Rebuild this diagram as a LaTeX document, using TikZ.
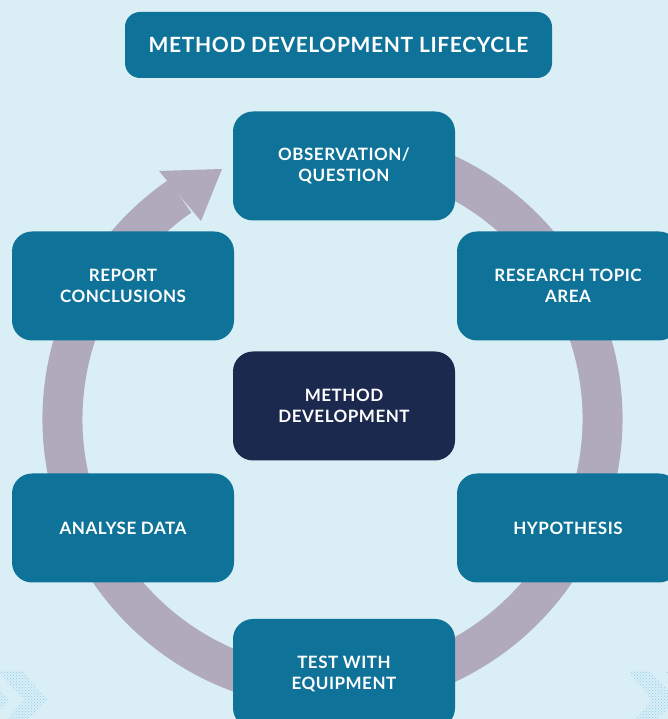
\documentclass[tikz,border=0pt]{standalone}
\usepackage{fontspec}
\setmainfont{Lato}[LetterSpace=3]
\usetikzlibrary{positioning,patterns}

\definecolor{bgblue}{RGB}{218,238,246}
\definecolor{boxteal}{RGB}{15,115,153}
\definecolor{boxnavy}{RGB}{28,41,78}
\definecolor{ringgrey}{RGB}{176,170,188}
\definecolor{chevblue}{RGB}{138,205,236}

\begin{document}
\begin{tikzpicture}[
        x=1pt, y=1pt,
        % Style of the stage boxes round the ring
        stagebox/.style={
            fill=boxteal,
            rounded corners=20pt,
            minimum width=222pt,
            minimum height=109pt,
            align=center,
            text=white,
            font=\bfseries\fontsize{17}{21}\selectfont
        },
        % Style of the box in the middle
        hubbox/.style={
            stagebox,
            fill=boxnavy
        },
        % Style of the heading
        titlebox/.style={
            fill=boxteal,
            rounded corners=15pt,
            minimum width=427pt,
            minimum height=66pt,
            text=white,
            font=\bfseries\fontsize{21}{24}\selectfont
        },
        chevron/.style={
            pattern=crosshatch dots,
            pattern color=chevblue
        }
    ]
    % --- canvas ---
    \useasboundingbox (0,0) rectangle (668,719);
    \clip (0,0) rectangle (668,719);
    \fill[bgblue] (0,0) rectangle (668,719);

    % --- dotted chevrons in the bottom corners ---
    \fill[chevron] (0,48) -- (22,48) -- (48,19) -- (29,0) -- (7,0) -- (24,19) -- (0,46) -- cycle;
    \fill[chevron] (0,29) -- (10,19) -- (0,9) -- cycle;
    \fill[chevron] (628,48) -- (650,48) -- (676,19) -- (657,0) -- (635,0) -- (652,19) -- cycle;
    \fill[chevron] (666,48) -- (688,48) -- (714,19) -- (695,0) -- (673,0) -- (690,19) -- cycle;

    % --- the ring with its arrow head ---
    \coordinate (ring) at (332.5,300);
    \coordinate (tip) at (222,550);
    \coordinate (headl) at (159,548);
    \coordinate (headr) at (201,498);
    \draw[ringgrey, line width=40pt] (ring) ++(80:270) arc[start angle=80, end angle=-235.6, radius=270];
    \fill[ringgrey] (tip) -- (headl) -- (headr) -- cycle;

    % --- heading ---
    \node[titlebox] (title) at (338.5,674) {METHOD DEVELOPMENT LIFECYCLE};

    % --- stages ---
    \node[hubbox] (method) at (344,313) {METHOD\\DEVELOPMENT};
    \node[stagebox] (observe) at (344,553) {OBSERVATION/\\QUESTION};
    \node[stagebox] (research) at (568,433) {RESEARCH TOPIC\\AREA};
    \node[stagebox] (hypo) at (568,191) {HYPOTHESIS};
    \node[stagebox] (test) at (344,45.5) {TEST WITH\\EQUIPMENT};
    \node[stagebox] (analyse) at (123,191) {ANALYSE DATA};
    \node[stagebox] (report) at (123,433) {REPORT\\CONCLUSIONS};
\end{tikzpicture}
\end{document}
